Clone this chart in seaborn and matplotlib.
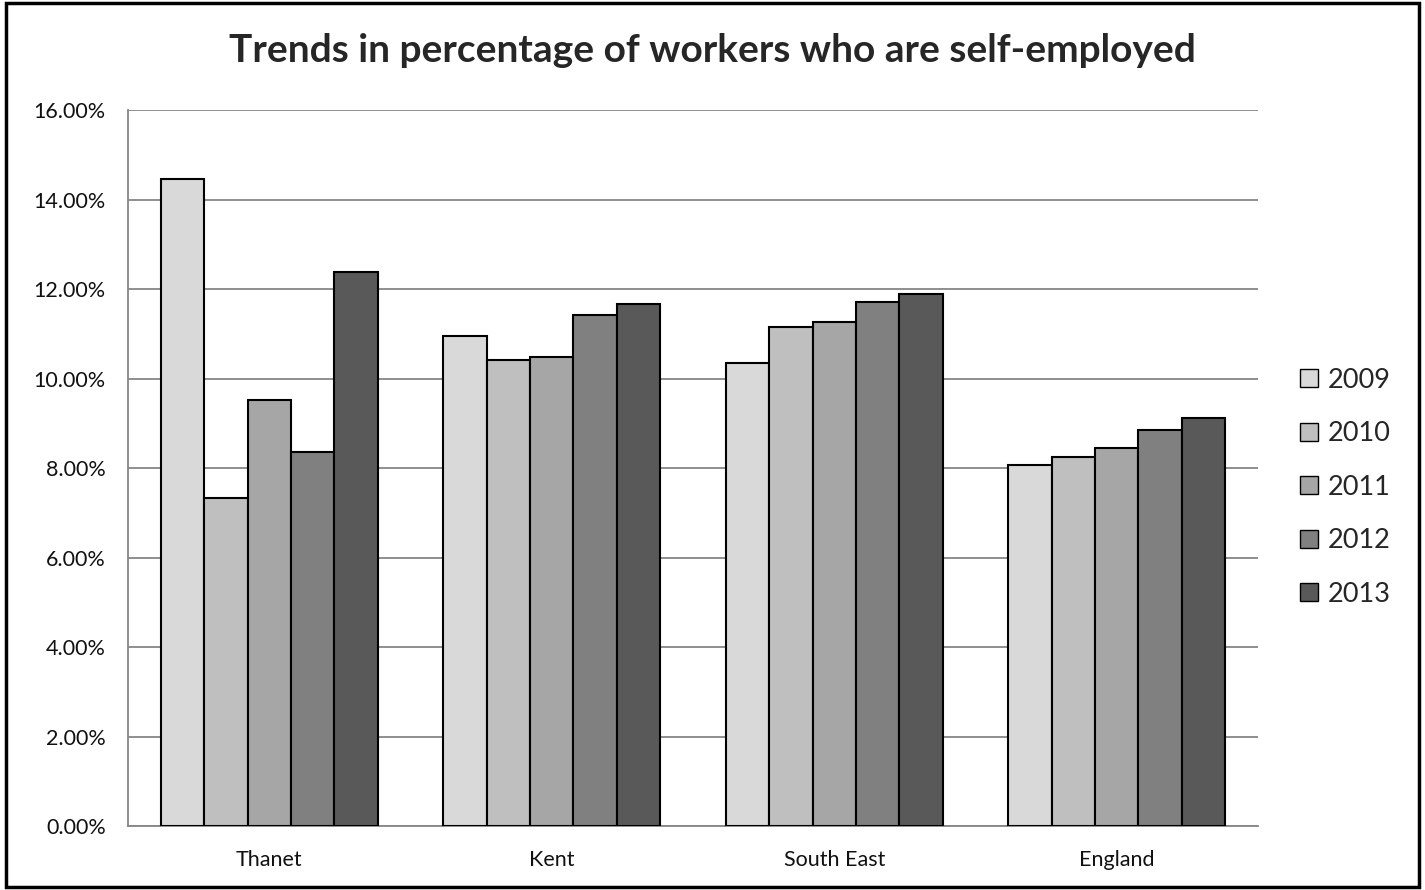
import numpy as np
import matplotlib
matplotlib.use("Agg")
import matplotlib.pyplot as plt
from matplotlib.patches import Rectangle
from matplotlib.ticker import FuncFormatter
import pandas as pd
import seaborn as sns

# values (% of workers self-employed)
regions = ["Thanet", "Kent", "South East", "England"]
years = ["2009", "2010", "2011", "2012", "2013"]
v2009 = [14.45, 10.95, 10.35, 8.06]
v2010 = [7.32, 10.41, 11.16, 8.24]
v2011 = [9.53, 10.47, 11.27, 8.44]
v2012 = [8.35, 11.43, 11.72, 8.84]
v2013 = [12.39, 11.67, 11.89, 9.12]
colors = ["#d9d9d9", "#bfbfbf", "#a6a6a6", "#808080", "#595959"]

sns.set_style("white")
plt.rcParams["font.family"] = ["Lato", "DejaVu Sans"]

df = pd.DataFrame({"region": regions, "2009": v2009, "2010": v2010,
                   "2011": v2011, "2012": v2012, "2013": v2013})
df = df.melt(id_vars="region", var_name="year", value_name="pct")

fig = plt.figure(figsize=(14.25, 8.9), dpi=100)
ax = fig.add_axes([0.0898, 0.0719, 0.793, 0.8045])

sns.barplot(data=df, x="region", y="pct", hue="year", order=regions,
            hue_order=years, palette=dict(zip(years, colors)),
            edgecolor="black", linewidth=1.5, width=0.768, gap=0,
            saturation=1, ax=ax, zorder=3)

ax.set_ylim(0, 16)
ax.set_yticks(np.arange(0, 17, 2))
ax.yaxis.set_major_formatter(FuncFormatter(lambda v, p: f"{v:.2f}%"))
ax.set_xlim(-0.5, 3.5)
ax.grid(axis="y", color="#868686", linewidth=1.3, zorder=0)
ax.set_axisbelow(True)
for s in ["top", "right"]:
    ax.spines[s].set_visible(False)
for s in ["left", "bottom"]:
    ax.spines[s].set_color("#868686")
    ax.spines[s].set_linewidth(1.3)
ax.tick_params(axis="both", length=0, labelsize=15.5, colors="#111111")
ax.tick_params(axis="y", pad=16)
ax.tick_params(axis="x", pad=17)
ax.set_xlabel("")
ax.set_ylabel("")

leg = ax.legend(loc="center left", bbox_to_anchor=(1.016, 0.473), frameon=False,
                fontsize=19.5, handlelength=0.65, handleheight=0.65,
                labelspacing=1.05, handletextpad=0.35)
for h in leg.legend_handles:
    h.set_edgecolor("black")
    h.set_linewidth(1)

fig.text(0.5, 0.943, "Trends in percentage of workers who are self-employed",
         ha="center", va="center", fontsize=28, fontweight="bold")

fig.patches.append(Rectangle((0.004, 0.003), 0.992, 0.994, transform=fig.transFigure,
                             fill=False, edgecolor="black", linewidth=2.5))

fig.savefig("out.png", dpi=100)
